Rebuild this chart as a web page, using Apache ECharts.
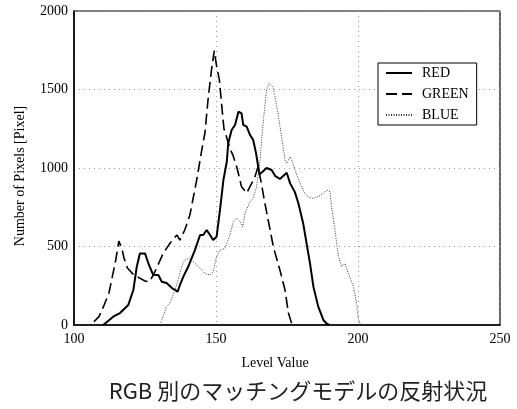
<!DOCTYPE html>
<html>
<head>
<meta charset="utf-8">
<script src="https://cdn.jsdelivr.net/npm/echarts@6/dist/echarts.min.js"></script>
<style>html,body{margin:0;padding:0;background:#fff}#c{width:517px;height:409px}</style>
</head>
<body>
<div id="c"></div>
<script>
var xTicks = [100, 150, 200, 250];
var yTicks = [0, 500, 1000, 1500, 2000];
var seriesNames = ['RED', 'GREEN', 'BLUE'];
var xName = 'Level Value';
var yName = 'Number of Pixels [Pixel]';
var caption = 'RGB 別のマッチングモデルの反射状況';

var red = [
[110.3,0],[113.8,53],[116.2,76],[119.1,127],[120.9,223],[122.1,371],[123.2,456],[125,456],[126.2,392],[127.9,318],[129.7,318],[130.9,276],[132.6,267],[134.5,235],[136.5,212],[137.3,255],[138.5,308],[140.2,371],[142.6,478],[144.4,573],[145.5,573],[146.7,605],[147.9,573],[149,541],[150.2,562],[151.4,732],[152.6,923],[153.8,1040],[154.3,1157],[155.5,1242],[156.7,1274],[157.9,1359],[159,1348],[159.6,1274],[160.8,1263],[162,1210],[163.1,1178],[164.1,1094],[165.3,960],[166.3,975],[167.8,1000],[169.6,987],[170.8,950],[172.5,930],[174.9,970],[176.1,902],[177.8,845],[179,775],[180.7,647],[181.9,519],[183.1,393],[184.3,244],[186,117],[187.8,32],[189,8],[190,0]
];
var green = [
[107,21],[108.8,53],[110.6,127],[112.3,204],[113.5,308],[114.7,414],[115.8,535],[117,478],[117.6,427],[118.8,363],[121,320],[123,300],[125,280],[126.5,275],[128,320],[129.5,380],[131.4,456],[133.8,521],[136.2,573],[137.3,541],[139,605],[140.8,700],[143.2,923],[145,1115],[146.1,1223],[147.3,1454],[148.5,1637],[149.4,1747],[150.2,1650],[151.2,1560],[152,1400],[152.8,1250],[154,1180],[155,1120],[156,1080],[157.4,1000],[159,880],[160.8,840],[162.5,900],[163.7,945],[164.8,1008],[166,900],[167,796],[170.2,498],[172.5,350],[174.3,223],[175.5,76],[176.6,12],[177.5,0]
];
var blue = [
[130.3,0],[132.6,117],[133.8,140],[135.6,223],[137.3,331],[138.5,400],[139.1,414],[140.8,425],[142.6,393],[144.4,361],[146.1,329],[147.9,318],[149,340],[150.2,435],[151.4,478],[153.2,488],[154.9,573],[156.1,658],[157.3,680],[158.5,658],[159.4,626],[160.2,711],[162,786],[163.1,807],[164.3,881],[165.5,1050],[166.7,1306],[167.8,1497],[168.6,1539],[170,1518],[170.8,1454],[172,1327],[173.1,1199],[174.3,1051],[174.9,1029],[176.1,1072],[176.7,1051],[177.8,987],[179.6,902],[181.3,838],[182.4,815],[184,807],[186,817],[187.8,838],[189,860],[190.1,849],[190.7,753],[191.9,605],[193.1,435],[194.3,371],[195.4,393],[196.6,329],[198.4,244],[199.5,138],[200.1,43],[200.7,10],[201.5,0]
];

var serif = '"Liberation Serif", "DejaVu Serif", serif';
var chart = echarts.init(document.getElementById('c'));
chart.setOption({
  animation: false,
  backgroundColor: '#fff',
  grid: {left: 74, right: 17, top: 11, bottom: 84, show: true, borderColor: '#000', borderWidth: 1.2, containLabel: false},
  graphic: [
    {type: 'text', x: 275, y: 363, style: {text: xName, fontFamily: serif, fontSize: 14, fill: '#000', align: 'center', verticalAlign: 'middle'}},
    {type: 'text', x: 20, y: 176, rotation: Math.PI / 2, style: {text: yName, fontFamily: serif, fontSize: 14, fill: '#000', align: 'center', verticalAlign: 'middle'}},
    {type: 'text', x: 298, y: 391, style: {text: caption, fontFamily: '"Noto Sans CJK JP", sans-serif', fontSize: 22, fill: '#222', align: 'center', verticalAlign: 'middle'}}
  ],
  legend: {
    data: seriesNames,
    orient: 'vertical', left: 378, top: 63,
    padding: [3, 8, 3, 7], itemGap: 7, itemWidth: 26, itemHeight: 14,
    borderColor: '#000', borderWidth: 1, backgroundColor: '#fff',
    itemStyle: {opacity: 0},
    textStyle: {fontFamily: serif, fontSize: 14, color: '#000', padding: [0, 0, 0, 5]}
  },
  xAxis: {
    type: 'value', min: xTicks[0], max: xTicks[xTicks.length - 1], interval: 50,
    axisLine: {show: true, lineStyle: {color: '#000', width: 1.5}},
    axisTick: {show: false},
    axisLabel: {fontFamily: serif, fontSize: 14, color: '#000', margin: 7, formatter: function (v) { return String(v); }},
    splitLine: {show: true, lineStyle: {color: '#999', type: [1, 4], width: 1}}
  },
  yAxis: {
    type: 'value', min: yTicks[0], max: yTicks[yTicks.length - 1], interval: 500,
    axisLine: {show: true, lineStyle: {color: '#000', width: 1.5}},
    axisTick: {show: false},
    axisLabel: {fontFamily: serif, fontSize: 14, color: '#000', margin: 6, formatter: function (v) { return String(v); }},
    splitLine: {show: true, lineStyle: {color: '#999', type: [1, 4], width: 1}}
  },
  series: [
    {name: seriesNames[0], type: 'line', data: red, symbol: 'none', lineStyle: {color: '#000', width: 2, type: 'solid'}, itemStyle: {color: '#000'}},
    {name: seriesNames[1], type: 'line', data: green, symbol: 'none', lineStyle: {color: '#000', width: 1.6, type: [11, 5]}, itemStyle: {color: '#000'}},
    {name: seriesNames[2], type: 'line', data: blue, symbol: 'none', lineStyle: {color: '#333', width: 1, type: [1, 1.5]}, itemStyle: {color: '#333'}}
  ]
});
</script>
</body>
</html>
